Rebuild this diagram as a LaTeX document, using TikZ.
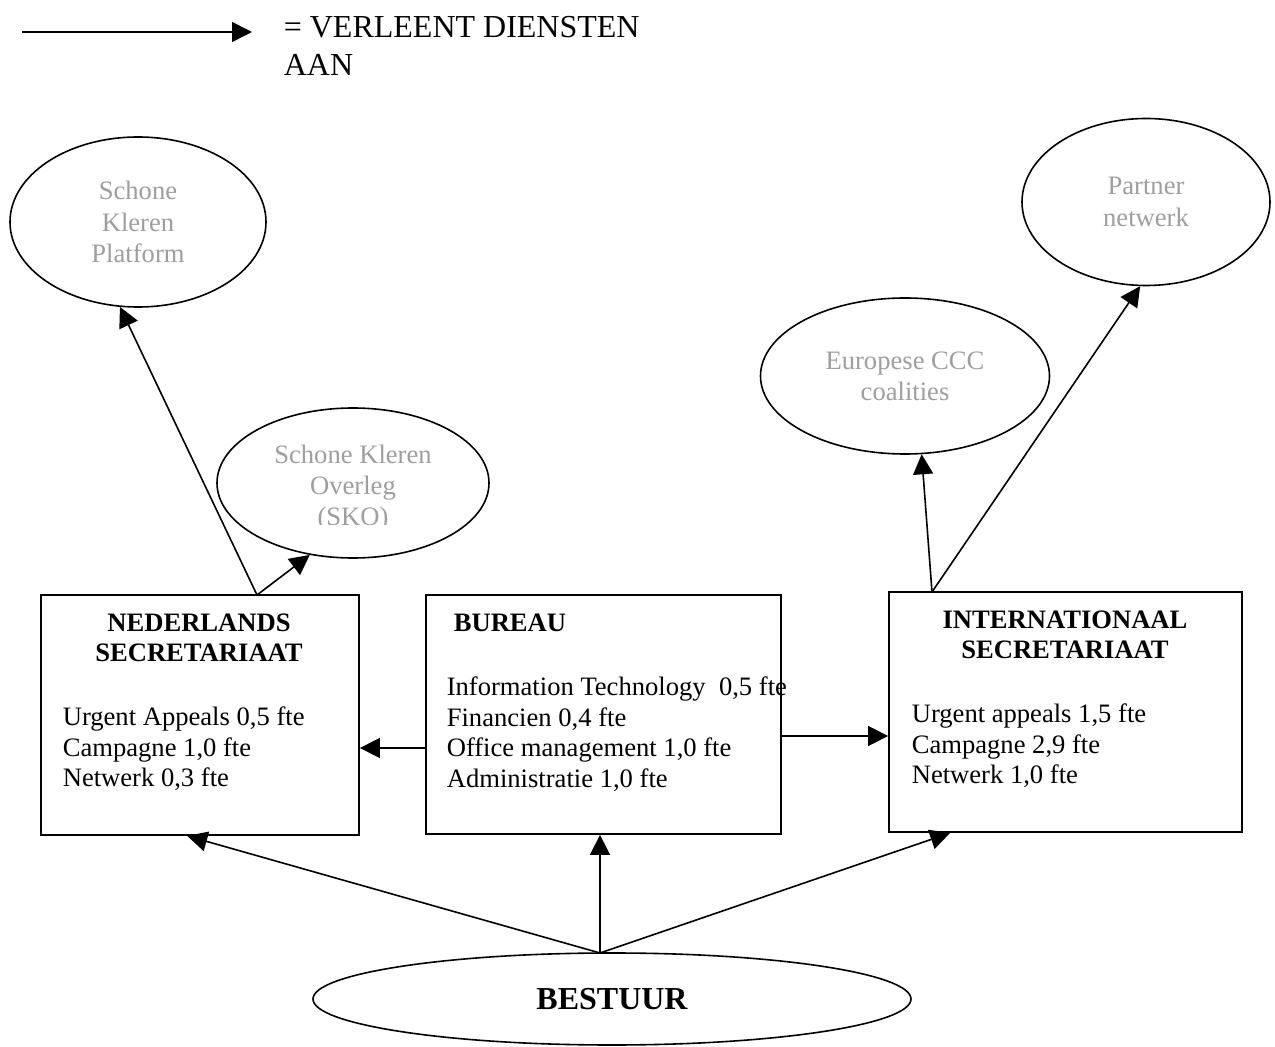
\documentclass[tikz,border=0pt]{standalone}
\usepackage{fontspec}
\setmainfont{Liberation Serif}
\usetikzlibrary{shapes.geometric,arrows.meta,calc}
\definecolor{greytext}{HTML}{9E9E9E}
\begin{document}
\begin{tikzpicture}[x=0.5pt,y=-0.5pt,
  line width=0.8pt,
  arr/.style={-{Triangle[length=10pt,width=10pt]}},
  box/.style={draw, rectangle, inner sep=0pt, line width=0.9pt},
  oval/.style={draw, ellipse, inner sep=0pt, line width=0.8pt},
  txt/.style={inner sep=0pt, font=\fontsize{13.3}{15.3}\selectfont, align=left},
  ttl/.style={inner sep=0pt, font=\fontsize{13.3}{15}\selectfont\bfseries, align=center},
  grey/.style={text=greytext, inner sep=0pt, align=center, font=\fontsize{13.3}{15.6}\selectfont}
]
\useasboundingbox (0,0) rectangle (1275,1047);

% legend
\coordinate (lg1) at (22,32);
\coordinate (lg2) at (252,32);
\draw[arr] (lg1) -- (lg2);
\node[inner sep=0pt, anchor=north west, align=left, font=\fontsize{16}{19}\selectfont] (legend) at (283,16) {= VERLEENT DIENSTEN\\AAN};

% ellipses
\node[oval, minimum width=128pt, minimum height=85pt, grey] (plat) at (138,222) {Schone\\Kleren\\Platform};
\node[oval, minimum width=124pt, minimum height=83.5pt, grey] (partner) at (1146,202) {Partner\\netwerk};
\node[oval, minimum width=144.5pt, minimum height=78pt, grey] (euro) at (905,376) {Europese CCC\\coalities};
\node[oval, minimum width=136pt, minimum height=75pt] (sko) at (353,483) {};
\begin{scope}
\clip (240,420) rectangle (470,525);
\node[grey] (skotext) at (353,488) {Schone Kleren\\Overleg\\(SKO)};
\end{scope}
\node[oval, minimum width=299pt, minimum height=46pt, font=\fontsize{16}{19}\selectfont\bfseries] (bestuur) at (612,999) {BESTUUR};

% boxes
\node[box, minimum width=159pt, minimum height=120pt] (ned) at (200,715) {};
\node[box, minimum width=177.5pt, minimum height=119.5pt] (bur) at (603.5,714.5) {};
\node[box, minimum width=176.5pt, minimum height=120pt] (int) at (1065.5,712) {};

\node[ttl, anchor=north] (nedt) at (199,613) {NEDERLANDS\\SECRETARIAAT};
\node[txt, anchor=north west] (nedb) at (62,706) {Urgent Appeals 0,5 fte\\Campagne 1,0 fte\\Netwerk 0,3 fte};
\node[ttl, anchor=north west] (burt) at (453,613) {BUREAU};
\node[txt, anchor=north west] (burb) at (446,676) {Information Technology\ \ 0,5 fte\\Financien 0,4 fte\\Office management 1,0 fte\\Administratie 1,0 fte};
\node[ttl, anchor=north] (intt) at (1065,610) {INTERNATIONAAL\\SECRETARIAAT};
\node[txt, anchor=north west] (intb) at (911,703) {Urgent appeals 1,5 fte\\Campagne 2,9 fte\\Netwerk 1,0 fte};

% connectors
\coordinate (nedout) at (257,595);
\coordinate (intout) at (932,592);
\coordinate (bestop) at (600,953);
\coordinate (burl) at (426,748);
\coordinate (burr) at (781,736);
\coordinate (nedin) at ($(ned.south west)!0.46!(ned.south east)$);
\coordinate (intin) at ($(int.south west)!0.175!(int.south east)$);

\draw[arr] (nedout) -- (plat.-102);
\draw[arr] (nedout) -- (sko.-121);
\draw[arr] (intout) -- (euro.-78);
\draw[arr] (intout) -- (partner.-94);
\draw[arr] (burl) -- (burl -| ned.east);
\draw[arr] (burr) -- (burr -| int.west);
\draw[arr] (bestop) -- (nedin);
\draw[arr] (bestop) -- (bestop |- bur.south);
\draw[arr] (bestop) -- (intin);
\end{tikzpicture}
\end{document}
